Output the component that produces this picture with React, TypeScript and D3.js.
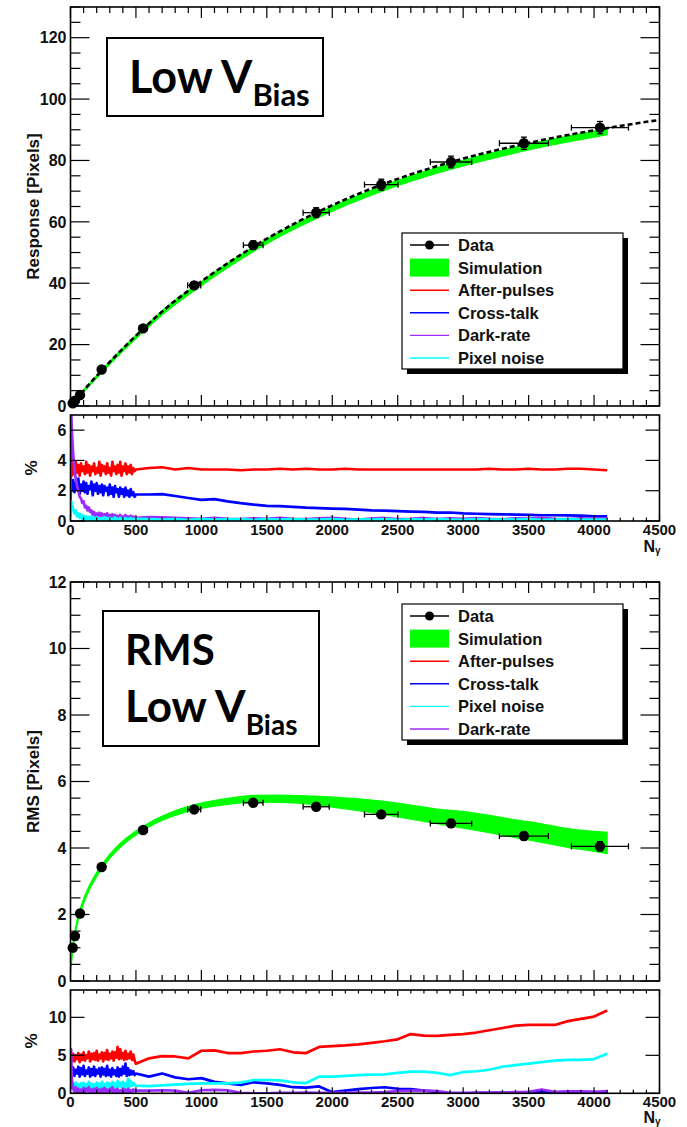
import React from "react";
import * as d3 from "d3";

// ---------- measured points (shared photon counts) ----------
const pointN = [17, 34, 73, 238, 555, 945, 1396, 1877, 2374, 2907, 3464, 4045];
const pointNErr = [1, 2, 4, 13, 30, 50, 75, 100, 128, 158, 187, 218];
const responseVal = [0.9, 1.7, 3.6, 11.9, 25.3, 39.3, 52.4, 63.0, 72.1, 79.5, 85.6, 90.7];
const responseErr = [0.3, 0.4, 0.5, 0.8, 1.0, 1.2, 1.4, 1.6, 1.8, 1.9, 2.0, 2.0];
const rmsVal = [1.0, 1.35, 2.03, 3.43, 4.54, 5.16, 5.36, 5.24, 5.01, 4.74, 4.36, 4.05];
const rmsErr = [0.08, 0.1, 0.1, 0.1, 0.1, 0.1, 0.1, 0.1, 0.1, 0.12, 0.12, 0.14];

// ---------- response fit (dashed) ----------
const fitN = [0, 100, 250, 500, 750, 1000, 1250, 1500, 1750, 2000, 2250, 2500, 2750, 3000, 3250, 3500, 3750, 4000, 4250, 4500];
const fitVal = [0, 5.0, 12.1, 22.9, 32.6, 40.6, 47.9, 54.5, 60.3, 65.4, 70.0, 74.0, 77.5, 80.6, 83.3, 85.7, 87.9, 89.8, 91.6, 93.2];

// ---------- simulation band, response ----------
const simRespN = [0, 100, 250, 500, 750, 1000, 1250, 1500, 1750, 2000, 2250, 2500, 2750, 3000, 3250, 3500, 3750, 4000, 4100];
const simRespLo = [0, 4.5, 11.4, 22.0, 31.4, 39.2, 46.4, 52.9, 58.5, 63.5, 67.9, 71.8, 75.2, 78.2, 80.9, 83.4, 85.6, 87.6, 88.4];
const simRespHi = [0.5, 5.2, 12.3, 23.1, 32.8, 40.6, 47.9, 54.4, 60.0, 65.1, 69.5, 73.5, 77.0, 80.1, 82.8, 85.3, 87.5, 89.6, 90.4];

// ---------- simulation band, RMS ----------
const simRmsN = [0, 25, 50, 100, 150, 200, 300, 400, 500, 600, 800, 1000, 1200, 1400, 1600, 1800, 2000, 2200, 2400, 2600, 2800, 3000, 3200, 3400, 3600, 3800, 4000, 4100];
const simRmsLo = [0.25, 1.12, 1.68, 2.33, 2.79, 3.14, 3.69, 4.09, 4.39, 4.64, 4.98, 5.19, 5.31, 5.38, 5.37, 5.33, 5.23, 5.12, 5.0, 4.87, 4.73, 4.6, 4.46, 4.31, 4.17, 4.02, 3.9, 3.83];
const simRmsHi = [0.45, 1.28, 1.82, 2.47, 2.92, 3.27, 3.81, 4.21, 4.51, 4.76, 5.12, 5.35, 5.49, 5.58, 5.59, 5.57, 5.53, 5.48, 5.4, 5.29, 5.17, 5.1, 4.98, 4.85, 4.73, 4.58, 4.5, 4.47];

// ---------- noise contributions (%) ----------
const ratioN = [
  0, 5, 10, 20, 30, 40, 50, 60, 70, 80, 90, 100, 110, 120, 130, 140, 150, 160, 170, 180, 190, 200,
  210, 220, 230, 240, 250, 260, 270, 280, 290, 300, 310, 320, 330, 340, 350, 360, 370, 380, 390, 400,
  410, 420, 430, 440, 450, 460, 470, 480, 490, 500,
  600, 700, 800, 900, 1000, 1100, 1200, 1300, 1400, 1500, 1600, 1700, 1800, 1900, 2000, 2100, 2200, 2300, 2400, 2500,
  2600, 2700, 2800, 2900, 3000, 3100, 3200, 3300, 3400, 3500, 3600, 3700, 3800, 3900, 4000, 4100,
];

const respAfterPulses = [
  2.9, 5.2, 3.0, 3.8, 3.1, 3.9, 3.2, 3.7, 3.0, 3.8, 3.3, 3.6, 3.1, 3.9, 3.2, 3.7, 3.0, 3.6, 3.3, 3.8,
  3.1, 3.5, 3.2, 3.9, 3.0, 3.7, 3.3, 3.6, 3.1, 3.8, 3.2, 3.5, 3.0, 3.9, 3.3, 3.6, 3.1, 3.7, 3.2, 3.9,
  3.0, 3.6, 3.3, 3.8, 3.1, 3.6, 3.2, 3.7, 3.1, 3.5, 3.3, 3.4,
  3.5, 3.55, 3.4, 3.5, 3.4, 3.4, 3.4, 3.35, 3.4, 3.4, 3.45, 3.4, 3.45, 3.4, 3.4, 3.45, 3.4, 3.4, 3.4, 3.4,
  3.4, 3.4, 3.4, 3.4, 3.4, 3.4, 3.45, 3.4, 3.4, 3.45, 3.4, 3.4, 3.45, 3.45, 3.4, 3.35,
];
const respCrossTalk = [
  1.4, 2.6, 2.0, 2.7, 1.9, 2.5, 2.1, 2.8, 1.8, 2.4, 2.0, 2.6, 1.9, 2.5, 1.8, 2.3, 2.1, 2.6, 1.7, 2.4,
  2.0, 2.5, 1.8, 2.3, 1.9, 2.4, 1.7, 2.3, 2.0, 2.2, 1.7, 2.4, 1.8, 2.2, 1.6, 2.3, 1.9, 2.1, 1.6, 2.2,
  1.8, 2.1, 1.6, 2.2, 1.7, 2.0, 1.6, 2.1, 1.7, 1.9, 1.6, 1.75,
  1.75, 1.78, 1.65, 1.52, 1.4, 1.44, 1.3, 1.18, 1.08, 1.0, 0.98, 0.93, 0.88, 0.85, 0.82, 0.8, 0.75, 0.7, 0.68, 0.65,
  0.62, 0.6, 0.55, 0.56, 0.5, 0.48, 0.46, 0.44, 0.42, 0.4, 0.38, 0.38, 0.37, 0.36, 0.3, 0.3,
];
const respDarkRate = [
  0.5, 7.5, 6.0, 4.5, 3.5, 2.8, 2.3, 2.0, 1.6, 1.5, 1.2, 1.3, 0.9, 1.0, 0.7, 0.9, 0.6, 0.7, 0.4, 0.6,
  0.3, 0.5, 0.35, 0.55, 0.2, 0.5, 0.3, 0.45, 0.15, 0.5, 0.2, 0.4, 0.1, 0.45, -0.3, 0.4, 0.0, 0.35, 0.1, 0.4,
  0.05, 0.3, 0.15, 0.4, 0.0, 0.3, 0.1, 0.35, 0.05, 0.3, 0.1, 0.2,
  0.26, 0.24, 0.2, 0.17, 0.15, 0.2, 0.15, 0.12, 0.18, 0.15, 0.2, 0.14, 0.12, 0.17, 0.2, 0.14, 0.1, 0.16, 0.2, 0.13,
  0.15, 0.2, 0.12, 0.17, 0.15, 0.19, 0.14, 0.11, 0.18, 0.16, 0.2, 0.15, 0.12, 0.17, 0.15, 0.17,
];
const respPixelNoise = [
  0.3, 1.3, 1.1, 0.8, 0.5, 0.7, 0.3, 0.5, 0.2, 0.45, 0.1, 0.35, 0.05, 0.3, 0.1, 0.25, 0.0, 0.3, 0.05, 0.2,
  0.0, 0.25, 0.05, 0.2, 0.0, 0.2, 0.1, 0.25, 0.0, 0.2, 0.05, 0.2, 0.0, 0.15, 0.05, 0.25, 0.0, 0.15, 0.05, 0.2,
  0.0, 0.15, 0.05, 0.2, 0.0, 0.15, 0.05, 0.2, 0.05, 0.15, 0.1, 0.15,
  0.12, 0.1, 0.13, 0.08, 0.12, 0.09, 0.11, 0.13, 0.08, 0.12, 0.1, 0.12, 0.09, 0.1, 0.13, 0.08, 0.11, 0.1, 0.12, 0.08,
  0.11, 0.09, 0.12, 0.1, 0.08, 0.12, 0.1, 0.11, 0.09, 0.12, 0.08, 0.1, 0.12, 0.09, 0.1, 0.1,
];

const rmsAfterPulses = [
  4.0, 5.0, 4.3, 5.2, 4.2, 5.0, 4.5, 5.3, 4.1, 5.1, 4.4, 5.4, 4.3, 5.0, 4.6, 5.5, 4.2, 5.2, 4.5, 5.3,
  4.4, 5.6, 4.3, 5.1, 4.6, 5.4, 4.2, 5.3, 4.5, 5.7, 4.4, 5.2, 4.6, 5.5, 4.3, 5.4, 4.7, 6.1, 4.5, 5.8,
  4.6, 5.3, 4.4, 5.6, 4.5, 5.2, 4.6, 5.5, 4.4, 5.1, 4.3, 3.9,
  4.6, 4.9, 4.85, 4.6, 5.6, 5.65, 5.3, 5.3, 5.5, 5.6, 5.8, 5.4, 5.3, 6.1, 6.2, 6.3, 6.45, 6.65, 6.85, 7.1,
  7.8, 7.6, 7.55, 7.7, 7.8, 8.0, 8.3, 8.6, 8.9, 9.0, 9.0, 9.0, 9.5, 9.8, 10.1, 10.9,
];
const rmsCrossTalk = [
  2.0, 3.2, 2.5, 3.4, 2.3, 3.1, 2.6, 3.5, 2.2, 3.3, 2.5, 3.6, 2.3, 3.0, 2.6, 3.4, 2.2, 3.2, 2.4, 3.5,
  2.3, 3.1, 2.6, 3.3, 2.2, 3.4, 2.5, 3.2, 2.3, 3.6, 2.4, 3.1, 2.2, 3.3, 2.5, 3.0, 2.3, 3.4, 2.2, 3.2,
  2.4, 3.5, 2.6, 3.9, 2.3, 3.3, 2.4, 3.0, 2.5, 2.9, 2.4, 2.6,
  2.2, 2.6, 2.1, 1.85, 2.0, 1.5, 1.3, 1.1, 1.45, 1.3, 1.1, 0.8, 0.75, 0.9, 0.15, 0.35, 0.55, 0.7, 0.8, 0.6,
  0.55, 0.35, 0.2, 0.0, -0.1, 0.05, 0.05, 0.1, 0.1, 0.15, 0.15, 0.1, 0.15, 0.15, 0.15, 0.1,
];
const rmsPixelNoise = [
  0.8, 1.4, 0.9, 1.3, 0.6, 1.4, 0.8, 1.2, 0.5, 1.3, 0.9, 1.4, 0.6, 1.2, 0.8, 1.5, 0.7, 1.3, 0.6, 1.2,
  0.9, 1.4, 0.7, 1.3, 0.6, 1.5, 0.8, 1.2, 0.7, 1.4, 0.9, 1.3, 0.6, 1.5, 0.8, 1.3, 0.7, 1.6, 0.9, 1.4,
  0.8, 1.5, 0.7, 1.3, 0.9, 1.9, 0.8, 1.6, 1.0, 1.4, 1.1, 1.0,
  0.95, 1.05, 1.15, 1.25, 1.3, 1.3, 1.3, 1.4, 1.75, 1.75, 1.7, 1.45, 1.35, 2.2, 2.2, 2.3, 2.4, 2.45, 2.5, 2.7,
  2.85, 2.85, 2.7, 2.4, 2.8, 2.9, 3.1, 3.5, 3.7, 3.9, 4.1, 4.3, 4.4, 4.4, 4.5, 5.2,
];
const rmsDarkRate = [
  0.5, 5.8, 2.0, 0.6, 0.2, 0.8, 0.1, 0.6, -0.3, 0.5, 0.2, 0.7, 0.0, 0.6, 0.3, 0.8, -0.2, 0.5, 0.1, 0.6,
  0.0, 0.7, 0.2, 0.5, -0.4, 0.6, 0.1, 0.7, 0.2, 0.5, 0.0, 0.6, 0.3, 0.8, -0.2, 0.5, 0.1, 0.6, -0.5, 0.4,
  0.2, 0.6, 0.0, 0.5, 0.2, 0.6, 0.1, 0.4, 0.2, 0.5, 0.3, 0.35,
  0.35, 0.4, 0.35, 0.05, 0.4, 0.45, 0.4, 0.05, 0.0, 0.0, 0.05, 0.05, 0.1, 0.05, 0.05, 0.1, 0.1, 0.1, 0.15, 0.3,
  0.35, 0.35, 0.3, 0.05, 0.05, 0.1, 0.1, 0.1, 0.15, 0.2, 0.5, 0.2, 0.25, 0.25, 0.2, 0.3,
];

// ---------- axis ticks ----------
const xTickLabels = [0, 500, 1000, 1500, 2000, 2500, 3000, 3500, 4000, 4500];
const respTickLabels = [0, 20, 40, 60, 80, 100, 120];
const respPctLabels = [0, 2, 4, 6];
const rmsTickLabels = [0, 2, 4, 6, 8, 10, 12];
const rmsPctLabels = [0, 5, 10];

const legendTop = ["Data", "Simulation", "After-pulses", "Cross-talk", "Dark-rate", "Pixel noise"];
const legendBottom = ["Data", "Simulation", "After-pulses", "Cross-talk", "Pixel noise", "Dark-rate"];

const COLORS: Record<string, string> = {
  "After-pulses": "#ff0000",
  "Cross-talk": "#0000ff",
  "Dark-rate": "#9a2cff",
  "Pixel noise": "#00ffff",
  Simulation: "#00ff00",
};

// ---------- layout ----------
const WIDTH = 687;
const HEIGHT = 1127;
const LEFT = 70.5;
const RIGHT = 659.5;
const FONT = "'Liberation Sans', Arial, Helvetica, sans-serif";
const BOX_FONT = "Lato, 'Open Sans', sans-serif";
const INK = "#111";

type Pane = {
  id: string;
  top: number;
  bottom: number;
  max: number;
  major: number;
  minor: number | null;
  yLen: [number, number];
  xLen: [number, number];
  labels: number[];
};

const paneResp: Pane = { id: "resp", top: 7, bottom: 406, max: 130, major: 20, minor: 5, yLen: [19, 10], xLen: [11, 6], labels: respTickLabels };
const paneRespPct: Pane = { id: "respPct", top: 415, bottom: 521, max: 7, major: 2, minor: null, yLen: [14, 7], xLen: [6, 3.5], labels: respPctLabels };
const paneRms: Pane = { id: "rms", top: 582, bottom: 981, max: 12, major: 2, minor: 0.5, yLen: [19, 10], xLen: [11, 6], labels: rmsTickLabels };
const paneRmsPct: Pane = { id: "rmsPct", top: 990, bottom: 1093.3, max: 13.6, major: 5, minor: null, yLen: [14, 7], xLen: [6, 3.5], labels: rmsPctLabels };

const x = d3.scaleLinear().domain([0, 4500]).range([LEFT, RIGHT]);
const yOf = (p: Pane) => d3.scaleLinear().domain([0, p.max]).range([p.bottom, p.top]);

function Frame({ p }: { p: Pane }) {
  const y = yOf(p);
  const els: React.ReactNode[] = [];
  d3.range(0, 4501, 100).forEach((v) => {
    const len = v % 500 === 0 ? p.xLen[0] : p.xLen[1];
    const px = x(v);
    els.push(<line key={`xb${v}`} x1={px} x2={px} y1={p.bottom} y2={p.bottom - len} />);
    els.push(<line key={`xt${v}`} x1={px} x2={px} y1={p.top} y2={p.top + len} />);
  });
  const step = p.minor ?? p.major;
  d3.range(0, p.max + step / 2, step).forEach((raw) => {
    const v = +raw.toFixed(4);
    if (v > p.max) return;
    const r = v / p.major;
    const major = Math.abs(r - Math.round(r)) < 1e-6;
    const len = major ? p.yLen[0] : p.yLen[1];
    const py = y(v);
    els.push(<line key={`yl${v}`} x1={LEFT} x2={LEFT + len} y1={py} y2={py} />);
    els.push(<line key={`yr${v}`} x1={RIGHT} x2={RIGHT - len} y1={py} y2={py} />);
  });
  return (
    <g>
      <g stroke="#000" strokeWidth={1.2}>{els}</g>
      <rect x={LEFT} y={p.top} width={RIGHT - LEFT} height={p.bottom - p.top} fill="none" stroke="#000" strokeWidth={1.6} />
      <g fontFamily={FONT} fontWeight="bold" fontSize={16} fill={INK} textAnchor="end">
        {p.labels.map((v) => (
          <text key={v} x={LEFT - 4} y={y(v)} dy="0.36em">{v}</text>
        ))}
      </g>
    </g>
  );
}

function XLabels({ yPos, titleY }: { yPos: number; titleY: number }) {
  return (
    <g fontFamily={FONT} fontWeight="bold" fill={INK}>
      {xTickLabels.map((v) => (
        <text key={v} x={x(v)} y={yPos} dy="0.36em" fontSize={15} textAnchor="middle">{v}</text>
      ))}
      <text x={RIGHT + 1} y={titleY} fontSize={16} textAnchor="end">
        N<tspan fontSize={10} dy={1.5}>γ</tspan>
      </text>
    </g>
  );
}

function YTitle({ text, cx, cy }: { text: string; cx: number; cy: number }) {
  return (
    <text transform={`translate(${cx},${cy}) rotate(-90)`} textAnchor="middle" dy="0.36em" fontFamily={FONT} fontWeight="bold" fontSize={17} fill={INK}>
      {text}
    </text>
  );
}

function Clip({ p }: { p: Pane }) {
  return (
    <clipPath id={`clip-${p.id}`}>
      <rect x={LEFT} y={p.top} width={RIGHT - LEFT} height={p.bottom - p.top} />
    </clipPath>
  );
}

function Band({ p, n, lo, hi }: { p: Pane; n: number[]; lo: number[]; hi: number[] }) {
  const y = yOf(p);
  const area = d3
    .area<number>()
    .x((_, i) => x(n[i]))
    .y0((_, i) => y(lo[i]))
    .y1((_, i) => y(hi[i]))
    .curve(d3.curveMonotoneX);
  return <path d={area(n) ?? ""} fill={COLORS.Simulation} stroke={COLORS.Simulation} strokeWidth={1.2} clipPath={`url(#clip-${p.id})`} />;
}

function Points({ p, vals, errs }: { p: Pane; vals: number[]; errs: number[] }) {
  const y = yOf(p);
  const cap = 3;
  return (
    <g stroke="#000" strokeWidth={1.3} fill="#000">
      {pointN.map((n, i) => {
        const cx = x(n);
        const cy = y(vals[i]);
        const xl = x(n - pointNErr[i]);
        const xr = x(n + pointNErr[i]);
        const yt = y(vals[i] + errs[i]);
        const yb = y(vals[i] - errs[i]);
        return (
          <g key={i}>
            <line x1={xl} x2={xr} y1={cy} y2={cy} />
            <line x1={xl} x2={xl} y1={cy - cap} y2={cy + cap} />
            <line x1={xr} x2={xr} y1={cy - cap} y2={cy + cap} />
            <line x1={cx} x2={cx} y1={yt} y2={yb} />
            <line x1={cx - cap} x2={cx + cap} y1={yt} y2={yt} />
            <line x1={cx - cap} x2={cx + cap} y1={yb} y2={yb} />
            <circle cx={cx} cy={cy} r={5.2} stroke="none" />
          </g>
        );
      })}
    </g>
  );
}

function Series({ p, vals, color }: { p: Pane; vals: number[]; color: string }) {
  const y = yOf(p);
  const line = d3
    .line<number>()
    .x((_, i) => x(ratioN[i]))
    .y((v) => y(v));
  return <path d={line(vals) ?? ""} fill="none" stroke={color} strokeWidth={2.7} strokeLinejoin="round" clipPath={`url(#clip-${p.id})`} />;
}

function Legend({ left, top, entries }: { left: number; top: number; entries: string[] }) {
  const w = 221;
  const h = 136;
  const rowY = (i: number) => top + 12 + i * 22.6;
  return (
    <g>
      <rect x={left + 5} y={top + 5} width={w} height={h} fill="#000" />
      <rect x={left} y={top} width={w} height={h} fill="#fff" stroke="#000" strokeWidth={1.2} />
      {entries.map((name, i) => {
        const cy = rowY(i);
        let sym: React.ReactNode;
        if (name === "Data") {
          sym = (
            <g>
              <line x1={left + 8} x2={left + 47} y1={cy} y2={cy} stroke="#000" strokeWidth={1.3} />
              <circle cx={left + 27.5} cy={cy} r={4.5} fill="#000" />
            </g>
          );
        } else if (name === "Simulation") {
          sym = <rect x={left + 8} y={cy - 9} width={39} height={18} fill={COLORS.Simulation} />;
        } else {
          sym = <line x1={left + 8} x2={left + 47} y1={cy} y2={cy} stroke={COLORS[name]} strokeWidth={1.4} />;
        }
        return (
          <g key={name}>
            {sym}
            <text x={left + 56} y={cy} dy="0.36em" fontFamily={FONT} fontWeight="bold" fontSize={16.5} fill={INK}>
              {name}
            </text>
          </g>
        );
      })}
    </g>
  );
}

type BoxLine = { text: string; size: number; sub?: string; subSize?: number; base: number };

function TitleBox({ x0, y0, w, h, lines }: { x0: number; y0: number; w: number; h: number; lines: BoxLine[] }) {
  return (
    <g>
      <rect x={x0} y={y0} width={w} height={h} fill="#fff" stroke="#000" strokeWidth={2} />
      {lines.map((l, i) => (
        <text key={i} x={x0 + 22} y={l.base} fontFamily={BOX_FONT} fontWeight="bold" fontSize={l.size} fill="#000">
          {l.text}
          {l.sub ? (
            <tspan fontSize={l.subSize} dy={13}>{l.sub}</tspan>
          ) : null}
        </text>
      ))}
    </g>
  );
}

export default function App() {
  const yResp = yOf(paneResp);
  const fitLine = d3
    .line<number>()
    .x((_, i) => x(fitN[i]))
    .y((v) => yResp(v))
    .curve(d3.curveMonotoneX);

  return (
    <svg width={WIDTH} height={HEIGHT} viewBox={`0 0 ${WIDTH} ${HEIGHT}`} style={{ position: "absolute", left: 0, top: 0, background: "#fff" }}>
      <defs>
        <Clip p={paneResp} />
        <Clip p={paneRespPct} />
        <Clip p={paneRms} />
        <Clip p={paneRmsPct} />
      </defs>
      <rect width={WIDTH} height={HEIGHT} fill="#fff" />

      {/* Response vs N */}
      <Band p={paneResp} n={simRespN} lo={simRespLo} hi={simRespHi} />
      <path d={fitLine(fitVal) ?? ""} fill="none" stroke="#000" strokeWidth={2.6} strokeDasharray="5 3" clipPath="url(#clip-resp)" />
      <Points p={paneResp} vals={responseVal} errs={responseErr} />
      <Frame p={paneResp} />
      <TitleBox x0={107} y0={38} w={216} h={78} lines={[{ text: "Low V", size: 45, sub: "Bias", subSize: 31, base: 93 }]} />
      <Legend left={402} top={233} entries={legendTop} />
      <YTitle text="Response [Pixels]" cx={33} cy={206.5} />

      {/* Response contributions */}
      <Series p={paneRespPct} vals={respAfterPulses} color={COLORS["After-pulses"]} />
      <Series p={paneRespPct} vals={respCrossTalk} color={COLORS["Cross-talk"]} />
      <Series p={paneRespPct} vals={respDarkRate} color={COLORS["Dark-rate"]} />
      <Series p={paneRespPct} vals={respPixelNoise} color={COLORS["Pixel noise"]} />
      <Frame p={paneRespPct} />
      <YTitle text="%" cx={31} cy={468} />
      <XLabels yPos={530} titleY={552} />

      {/* RMS vs N */}
      <Band p={paneRms} n={simRmsN} lo={simRmsLo} hi={simRmsHi} />
      <Points p={paneRms} vals={rmsVal} errs={rmsErr} />
      <Frame p={paneRms} />
      <TitleBox
        x0={103}
        y0={611}
        w={216}
        h={135}
        lines={[
          { text: "RMS", size: 42, base: 665 },
          { text: "Low V", size: 44, sub: "Bias", subSize: 28, base: 722 },
        ]}
      />
      <Legend left={402} top={604} entries={legendBottom} />
      <YTitle text="RMS [Pixels]" cx={33} cy={781.5} />

      {/* RMS contributions */}
      <Series p={paneRmsPct} vals={rmsAfterPulses} color={COLORS["After-pulses"]} />
      <Series p={paneRmsPct} vals={rmsCrossTalk} color={COLORS["Cross-talk"]} />
      <Series p={paneRmsPct} vals={rmsPixelNoise} color={COLORS["Pixel noise"]} />
      <Series p={paneRmsPct} vals={rmsDarkRate} color={COLORS["Dark-rate"]} />
      <Frame p={paneRmsPct} />
      <YTitle text="%" cx={31} cy={1041} />
      <XLabels yPos={1102} titleY={1123} />
    </svg>
  );
}
